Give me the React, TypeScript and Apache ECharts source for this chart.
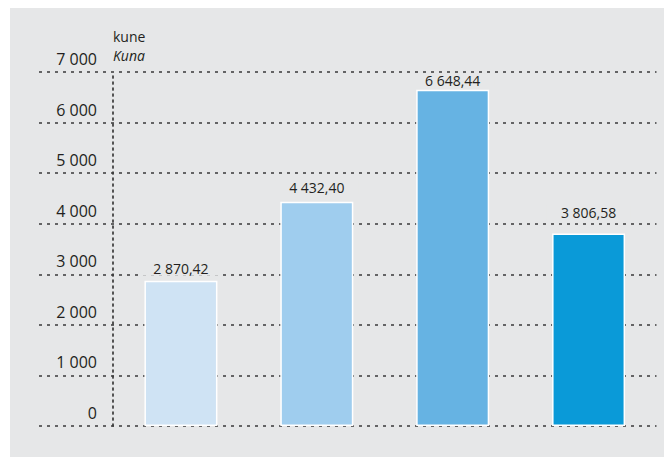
import React, { useEffect, useRef } from "react";
import * as echarts from "echarts";

const categories = ["A", "B", "C", "D"];
const values = [2870.42, 4432.4, 6648.44, 3806.58];
const barColors = ["#cfe3f4", "#9fcdee", "#66b3e3", "#0a9ad8"];
const labelDistances = [5, 7, 2, 14];
const yMin = 0;
const yMax = 7000;
const yInterval = 1000;
const unitLine1 = "kune";
const unitLine2 = "Kuna";

const fmtValue = (v: number) => {
  const [i, d] = v.toFixed(2).split(".");
  return i.replace(/\B(?=(\d{3})+(?!\d))/g, " ") + "," + d;
};
const fmtTick = (v: number) =>
  String(Math.round(v)).replace(/\B(?=(\d{3})+(?!\d))/g, " ");

const FONT = "'Open Sans', 'Noto Sans', sans-serif";
const BG = "#e6e7e8";
const TXT = "#231f20";

export default function App() {
  const ref = useRef<HTMLDivElement>(null);
  useEffect(() => {
    if (!ref.current) return;
    const chart = echarts.init(ref.current, null, { renderer: "svg" });
    const gridTop = 64;
    const gridBottom = 31;
    chart.setOption({
      animation: false,
      backgroundColor: BG,
      textStyle: { fontFamily: FONT },
      graphic: [
        {
          type: "text",
          left: 103,
          top: 21,
          style: { text: unitLine1, fontFamily: FONT, fontSize: 14, fill: TXT },
        },
        {
          type: "text",
          left: 103,
          top: 40,
          style: {
            text: unitLine2,
            fontFamily: FONT,
            fontSize: 14,
            fontStyle: "italic",
            fill: TXT,
          },
        },
      ],
      grid: [
        { left: 29, right: 15.5, top: gridTop, bottom: gridBottom },
        { left: 103, right: 15.5, top: gridTop, bottom: gridBottom },
      ],
      xAxis: [
        { gridIndex: 0, type: "value", show: false, min: 0, max: 1 },
        {
          gridIndex: 1,
          type: "category",
          data: categories,
          axisLine: { show: false },
          axisTick: { show: false },
          axisLabel: { show: false },
        },
      ],
      yAxis: [
        {
          gridIndex: 0,
          type: "value",
          min: yMin,
          max: yMax,
          interval: yInterval,
          axisLine: { show: false },
          axisTick: { show: false },
          axisLabel: { show: false },
          splitLine: {
            show: true,
            lineStyle: { color: "#3a3a3a", width: 1.7, type: [3, 5] },
          },
        },
        {
          gridIndex: 1,
          type: "value",
          min: yMin,
          max: yMax,
          interval: yInterval,
          axisLine: {
            show: true,
            lineStyle: { color: "#3a3a3a", width: 1.7, type: [2, 4] },
          },
          axisTick: { show: false },
          splitLine: { show: false },
          axisLabel: {
            formatter: (v: number) => fmtTick(v),
            fontFamily: FONT,
            fontSize: 16,
            color: TXT,
            margin: 16,
            verticalAlign: "bottom",
            lineHeight: 16,
            padding: [0, 0, 5, 0],
          },
        },
      ],
      series: [
        {
          type: "bar",
          xAxisIndex: 1,
          yAxisIndex: 1,
          barWidth: 73,
          data: values.map((v, i) => ({
            value: v,
            itemStyle: { color: barColors[i] },
            label: { distance: labelDistances[i] },
          })),
          itemStyle: { borderColor: "#ffffff", borderWidth: 1.5 },
          label: {
            show: true,
            position: "top",
            formatter: (p: any) => fmtValue(p.value),
            fontFamily: FONT,
            fontSize: 14,
            color: TXT,
            backgroundColor: BG,
            padding: [0, 14, 0, 14],
          },
        },
      ],
    });
    return () => chart.dispose();
  }, []);
  return <div ref={ref} style={{ width: 662, height: 449, marginLeft: 2 }} />;
}
